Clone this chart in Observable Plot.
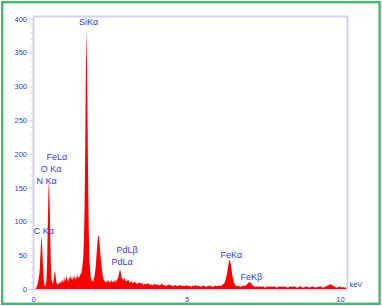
<!DOCTYPE html>
<html><head><meta charset="utf-8">
<script src="https://cdn.jsdelivr.net/npm/d3@7"></script>
<script src="https://cdn.jsdelivr.net/npm/@observablehq/plot@0.6"></script>
<style>html,body{margin:0;padding:0;background:#fff} svg{display:block}</style>
</head><body><div id="chart"></div>
<script>
// EDS spectrum segments: [keV, counts]
const lowEnergy = [[0,0],[0.02,0],[0.04,0],[0.06,0],[0.08,0],[0.10,1],[0.12,3],[0.14,6],[0.16,10],[0.18,14],[0.20,20],[0.22,30],[0.24,48],[0.26,68],[0.28,78],[0.30,62],[0.32,38],[0.34,20],[0.36,10],[0.38,5],[0.40,4],[0.42,6],[0.44,14],[0.46,40],[0.48,90],[0.50,140],[0.52,163],[0.54,130],[0.56,80],[0.58,40],[0.60,18],[0.62,10],[0.64,8],[0.66,10],[0.68,16],[0.70,24],[0.72,27],[0.74,18],[0.76,10],[0.78,8],[0.80,7],[0.82,9],[0.84,6],[0.86,10],[0.88,8]];
const preSilicon = [[0.90,12],[0.92,8],[0.94,14],[0.96,10],[0.98,16],[1.00,9],[1.02,13],[1.04,18],[1.06,11],[1.08,15],[1.10,20],[1.12,12],[1.14,16],[1.16,10],[1.18,18],[1.20,14],[1.22,21],[1.24,13],[1.26,17],[1.28,12],[1.30,19],[1.32,15],[1.34,22],[1.36,14],[1.38,18],[1.40,13],[1.42,20],[1.44,16],[1.46,23],[1.48,15],[1.50,19],[1.52,17],[1.54,24],[1.56,20],[1.58,26],[1.60,30]];
const siliconRegion = [[1.62,38],[1.64,50],[1.66,75],[1.68,120],[1.70,200],[1.72,310],[1.74,385],[1.76,330],[1.78,230],[1.80,140],[1.82,80],[1.84,45],[1.86,28],[1.88,18],[1.90,14],[1.92,11],[1.94,13],[1.96,10],[1.98,15],[2.00,18],[2.02,24],[2.04,32],[2.06,44],[2.08,58],[2.10,70],[2.12,77],[2.14,80],[2.16,72],[2.18,60],[2.20,50],[2.22,40],[2.24,32],[2.26,24],[2.28,18],[2.30,14],[2.32,11],[2.34,13],[2.36,9],[2.38,12],[2.40,10]];
const palladiumRegion = [[2.42,13],[2.44,9],[2.46,14],[2.48,11],[2.50,8],[2.52,12],[2.54,10],[2.56,15],[2.58,9],[2.60,12],[2.62,10],[2.64,14],[2.66,11],[2.68,9],[2.70,13],[2.72,12],[2.74,15],[2.76,14],[2.78,18],[2.80,22],[2.82,27],[2.84,29],[2.86,24],[2.88,18],[2.90,14],[2.92,16],[2.94,12],[2.96,15],[2.98,17],[3.00,13]];
const midRegion = [[3.05,11],[3.10,14],[3.15,9],[3.20,12],[3.25,8],[3.30,11],[3.35,9],[3.40,7],[3.45,10],[3.50,8],[3.55,9],[3.60,6],[3.65,8],[3.70,7],[3.75,9],[3.80,6],[3.85,7],[3.90,5],[3.95,8],[4.00,6],[4.05,7],[4.10,5],[4.15,6],[4.20,8],[4.25,5],[4.30,6],[4.35,4],[4.40,7],[4.45,5],[4.50,6],[4.55,4],[4.60,5],[4.65,6],[4.70,4],[4.75,5],[4.80,6],[4.85,4],[4.90,5],[4.95,4],[5.00,6],[5.05,4],[5.10,5],[5.15,3],[5.20,5],[5.25,4],[5.30,6],[5.35,4],[5.40,5],[5.45,3],[5.50,4],[5.55,5],[5.60,4],[5.65,3],[5.70,5],[5.75,4],[5.80,5],[5.85,3],[5.90,4],[5.95,5],[6.00,4],[6.05,5],[6.10,4],[6.15,6]];
const ironRegion = [[6.20,7],[6.25,10],[6.30,18],[6.35,32],[6.40,44],[6.45,36],[6.50,18],[6.55,9],[6.60,5],[6.65,4],[6.70,5],[6.75,3],[6.80,4],[6.85,5],[6.90,4],[6.95,6],[7.00,8],[7.05,11],[7.10,8],[7.15,5],[7.20,4]];
const tailRegion = [[7.25,3],[7.30,4],[7.35,3],[7.40,4],[7.45,3],[7.50,4],[7.55,2],[7.60,3],[7.65,4],[7.70,3],[7.75,4],[7.80,3],[7.85,4],[7.90,3],[7.95,2],[8.00,4],[8.05,3],[8.10,4],[8.15,3],[8.20,4],[8.25,3],[8.30,2],[8.35,3],[8.40,4],[8.45,3],[8.50,4],[8.55,3],[8.60,2],[8.65,3],[8.70,4],[8.75,3],[8.80,2],[8.85,3],[8.90,4],[8.95,3],[9.00,2],[9.05,3],[9.10,4],[9.15,3],[9.20,2],[9.25,3],[9.30,3],[9.35,4],[9.40,3],[9.45,2],[9.50,3],[9.55,4],[9.60,5],[9.65,6],[9.70,7],[9.75,5],[9.80,4],[9.85,3],[9.90,2],[9.95,3],[10.00,4],[10.05,2],[10.10,3],[10.15,2],[10.20,3]];

// Peak labels (position in keV / counts)
const peakNames  = ["SiKα", "FeLα", "O Kα", "N Kα", "C Kα", "PdLβ", "PdLα", "FeKα", "FeKβ"];
const peakKeV    = [1.48, 0.42, 0.24, 0.10, 0.01, 2.70, 2.54, 6.09, 6.74];
const peakCounts = [395, 196, 178, 160, 86, 59, 41, 51, 19];

const yTicks = [0, 50, 100, 150, 200, 250, 300, 350, 400];
const yMinorTicks = [0,10,20,30,40,50,60,70,80,90,100,110,120,130,140,150,160,170,180,190,200,210,220,230,240,250,260,270,280,290,300,310,320,330,340,350,360,370,380,390,400];
const xTicks = [0, 5, 10];
const xMinorTicks = [0, 1, 2, 3, 4, 5, 6, 7, 8, 9, 10];
const unitLabel = ["keV"];

const spectrum = [...lowEnergy, ...preSilicon, ...siliconRegion, ...palladiumRegion, ...midRegion, ...ironRegion, ...tailRegion]
  .map(([keV, counts]) => ({keV, counts}));

const blue = "#3838ee";
const lav = "#d2d2f4";

const chart = Plot.plot({
  width: 382, height: 306,
  marginLeft: 33, marginRight: 35, marginTop: 16, marginBottom: 17,
  style: {fontFamily: "'Liberation Sans', Arial, sans-serif", background: "white", overflow: "visible"},
  x: {domain: [0, 10.228], label: null},
  y: {domain: [0, 404], label: null},
  marks: [
    Plot.frame({stroke: lav, strokeWidth: 2}),
    Plot.areaY(spectrum, {x: "keV", y: "counts", fill: "#ff0000"}),
    Plot.axisY(yMinorTicks, {tickSize: 2.5, tickFormat: () => "", stroke: lav}),
    Plot.axisY(yTicks, {tickSize: 4.5, tickPadding: 2, stroke: lav, fill: blue, fontSize: 7.5}),
    Plot.axisX(xMinorTicks, {tickSize: 3, tickFormat: () => "", stroke: lav}),
    Plot.axisX(xTicks, {tickSize: 3, tickPadding: 4, stroke: lav, fill: blue, fontSize: 7.5}),
    Plot.text(peakNames, {x: peakKeV, y: peakCounts, text: d => d, textAnchor: "start", fill: blue, fontSize: 9}),
    Plot.text(unitLabel, {x: [10.29], y: [7.4], text: d => d, textAnchor: "start", fill: blue, fontSize: 7.5})
  ]
});

d3.select(chart).append("rect")
  .attr("x", 2.2).attr("y", 2.2).attr("width", 377.4).attr("height", 301.6)
  .attr("fill", "none").attr("stroke", "#45b870").attr("stroke-width", 2.4);

document.getElementById("chart").append(chart);
</script>
</body></html>
